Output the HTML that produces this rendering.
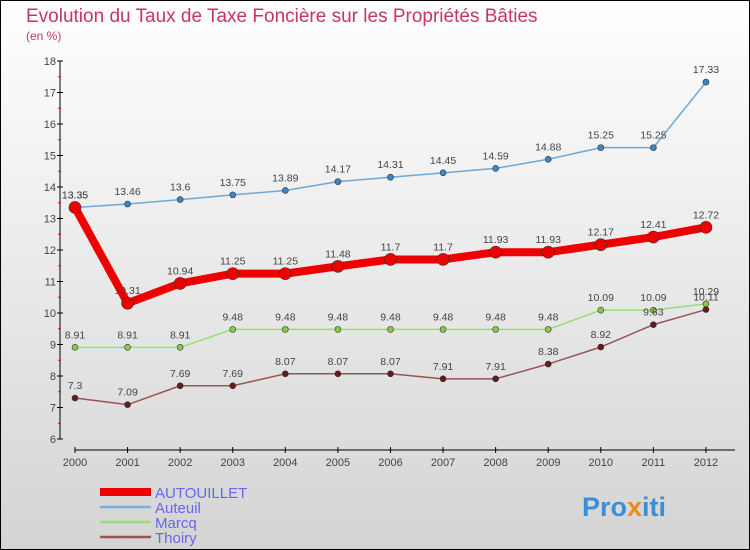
<!DOCTYPE html>
<html><head><meta charset="utf-8"><style>
body{margin:0;width:750px;height:550px;overflow:hidden;font-family:"Liberation Sans",sans-serif}
svg{display:block}
</style></head><body>
<svg id="chart" width="750" height="550" xmlns="http://www.w3.org/2000/svg">
<defs><linearGradient id="bg" x1="0" y1="0" x2="0" y2="1"><stop offset="0" stop-color="#ffffff"/><stop offset="1" stop-color="#d4d4d4"/></linearGradient></defs>
<rect x="0.5" y="0.5" width="749" height="549" fill="url(#bg)" stroke="#000"/>
<text x="26" y="22" font-size="19" fill="#c8336a">Evolution du Taux de Taxe Foncière sur les Propriétés Bâties</text>
<text x="26" y="40" font-size="12" fill="#c8336a">(en %)</text>
<g id="axes"></g>
<g id="series"></g>
<g id="legend"></g>
<text x="582" y="516" font-size="27" font-weight="bold" fill="#3a8fd8">Pro<tspan fill="#f08a1c">x</tspan>iti</text>
</svg>
<script>
const years=[2000,2001,2002,2003,2004,2005,2006,2007,2008,2009,2010,2011,2012];
const autouillet=[13.35,10.31,10.94,11.25,11.25,11.48,11.7,11.7,11.93,11.93,12.17,12.41,12.72];
const auteuil=[13.35,13.46,13.6,13.75,13.89,14.17,14.31,14.45,14.59,14.88,15.25,15.25,17.33];
const marcq=[8.91,8.91,8.91,9.48,9.48,9.48,9.48,9.48,9.48,9.48,10.09,10.09,10.29];
const thoiry=[7.3,7.09,7.69,7.69,8.07,8.07,8.07,7.91,7.91,8.38,8.92,9.63,10.11];
const yTicks=[6,7,8,9,10,11,12,13,14,15,16,17,18];
const NS="http://www.w3.org/2000/svg";
function X(i){return 75+i*52.58;}
function Y(v){return 439-(v-6)*31.5;}
function mk(tag,attrs,parent,txt){const e=document.createElementNS(NS,tag);for(const k in attrs)e.setAttribute(k,attrs[k]);if(txt!==undefined)e.textContent=txt;parent.appendChild(e);return e;}
const axes=document.getElementById('axes');
let a=mk('line',{x1:60,y1:61,x2:60,y2:439,stroke:'#000'},axes);


a=mk('line',{x1:75,y1:450,x2:735,y2:450,stroke:'#000'},axes);


yTicks.forEach(v=>{
  mk('line',{x1:57,y1:Y(v),x2:63,y2:Y(v),stroke:'#000'},axes);
  if(v<18)mk('line',{x1:58,y1:Y(v+0.5),x2:61,y2:Y(v+0.5),stroke:'#f00'},axes);
  const t=mk('text',{x:56,y:Y(v)+4,'font-size':11,fill:'#444','text-anchor':'end'},axes,v);
  
  
});
years.forEach((yr,i)=>{
  mk('line',{x1:X(i),y1:447,x2:X(i),y2:453,stroke:'#000'},axes);
  const t=mk('text',{x:X(i),y:466,'font-size':11,fill:'#444','text-anchor':'middle'},axes,yr);
  
  
});
const series=document.getElementById('series');
function draw(name,vals,color,dot,width,r){
  const g=mk('g',{},series);
  
  
  const l=mk('polyline',{points:vals.map((v,i)=>X(i)+','+Y(v)).join(' '),fill:'none',stroke:color,'stroke-width':width,'stroke-linejoin':'round'},g);
  
  
  vals.forEach((v,i)=>{
    const c=mk('circle',{cx:X(i),cy:Y(v),r:r,fill:dot,stroke:'#333','stroke-width':0.6},g);
    
    
    const t=mk('text',{x:X(i),y:Y(v)-9,'font-size':10.5,fill:'#444','text-anchor':'middle'},g,String(v));
    
    
  });
}
draw('marcq',marcq,'#99dd77','#88cc44',1.5,3);
draw('thoiry',thoiry,'#995555','#661a1a',1.5,3);
draw('auteuil',auteuil,'#6fa8d8','#3b86c6',1.5,3);
draw('autouillet',autouillet,'#ee0000','#ee0000',8,6);
const legend=document.getElementById('legend');
const leg=[['AUTOUILLET','#ee0000',8],['Auteuil','#7aaedb',2.5],['Marcq','#99dd77',2.5],['Thoiry','#995555',2.5]];
leg.forEach((d,i)=>{
  const y=492+i*15;
  const g=mk('g',{},legend);
  
  
  mk('line',{x1:100,y1:y,x2:151,y2:y,stroke:d[1],'stroke-width':d[2]},g);
  mk('text',{x:155,y:y+6,'font-size':15,fill:'#6666ee'},g,d[0]);
});
</script>
</body></html>
